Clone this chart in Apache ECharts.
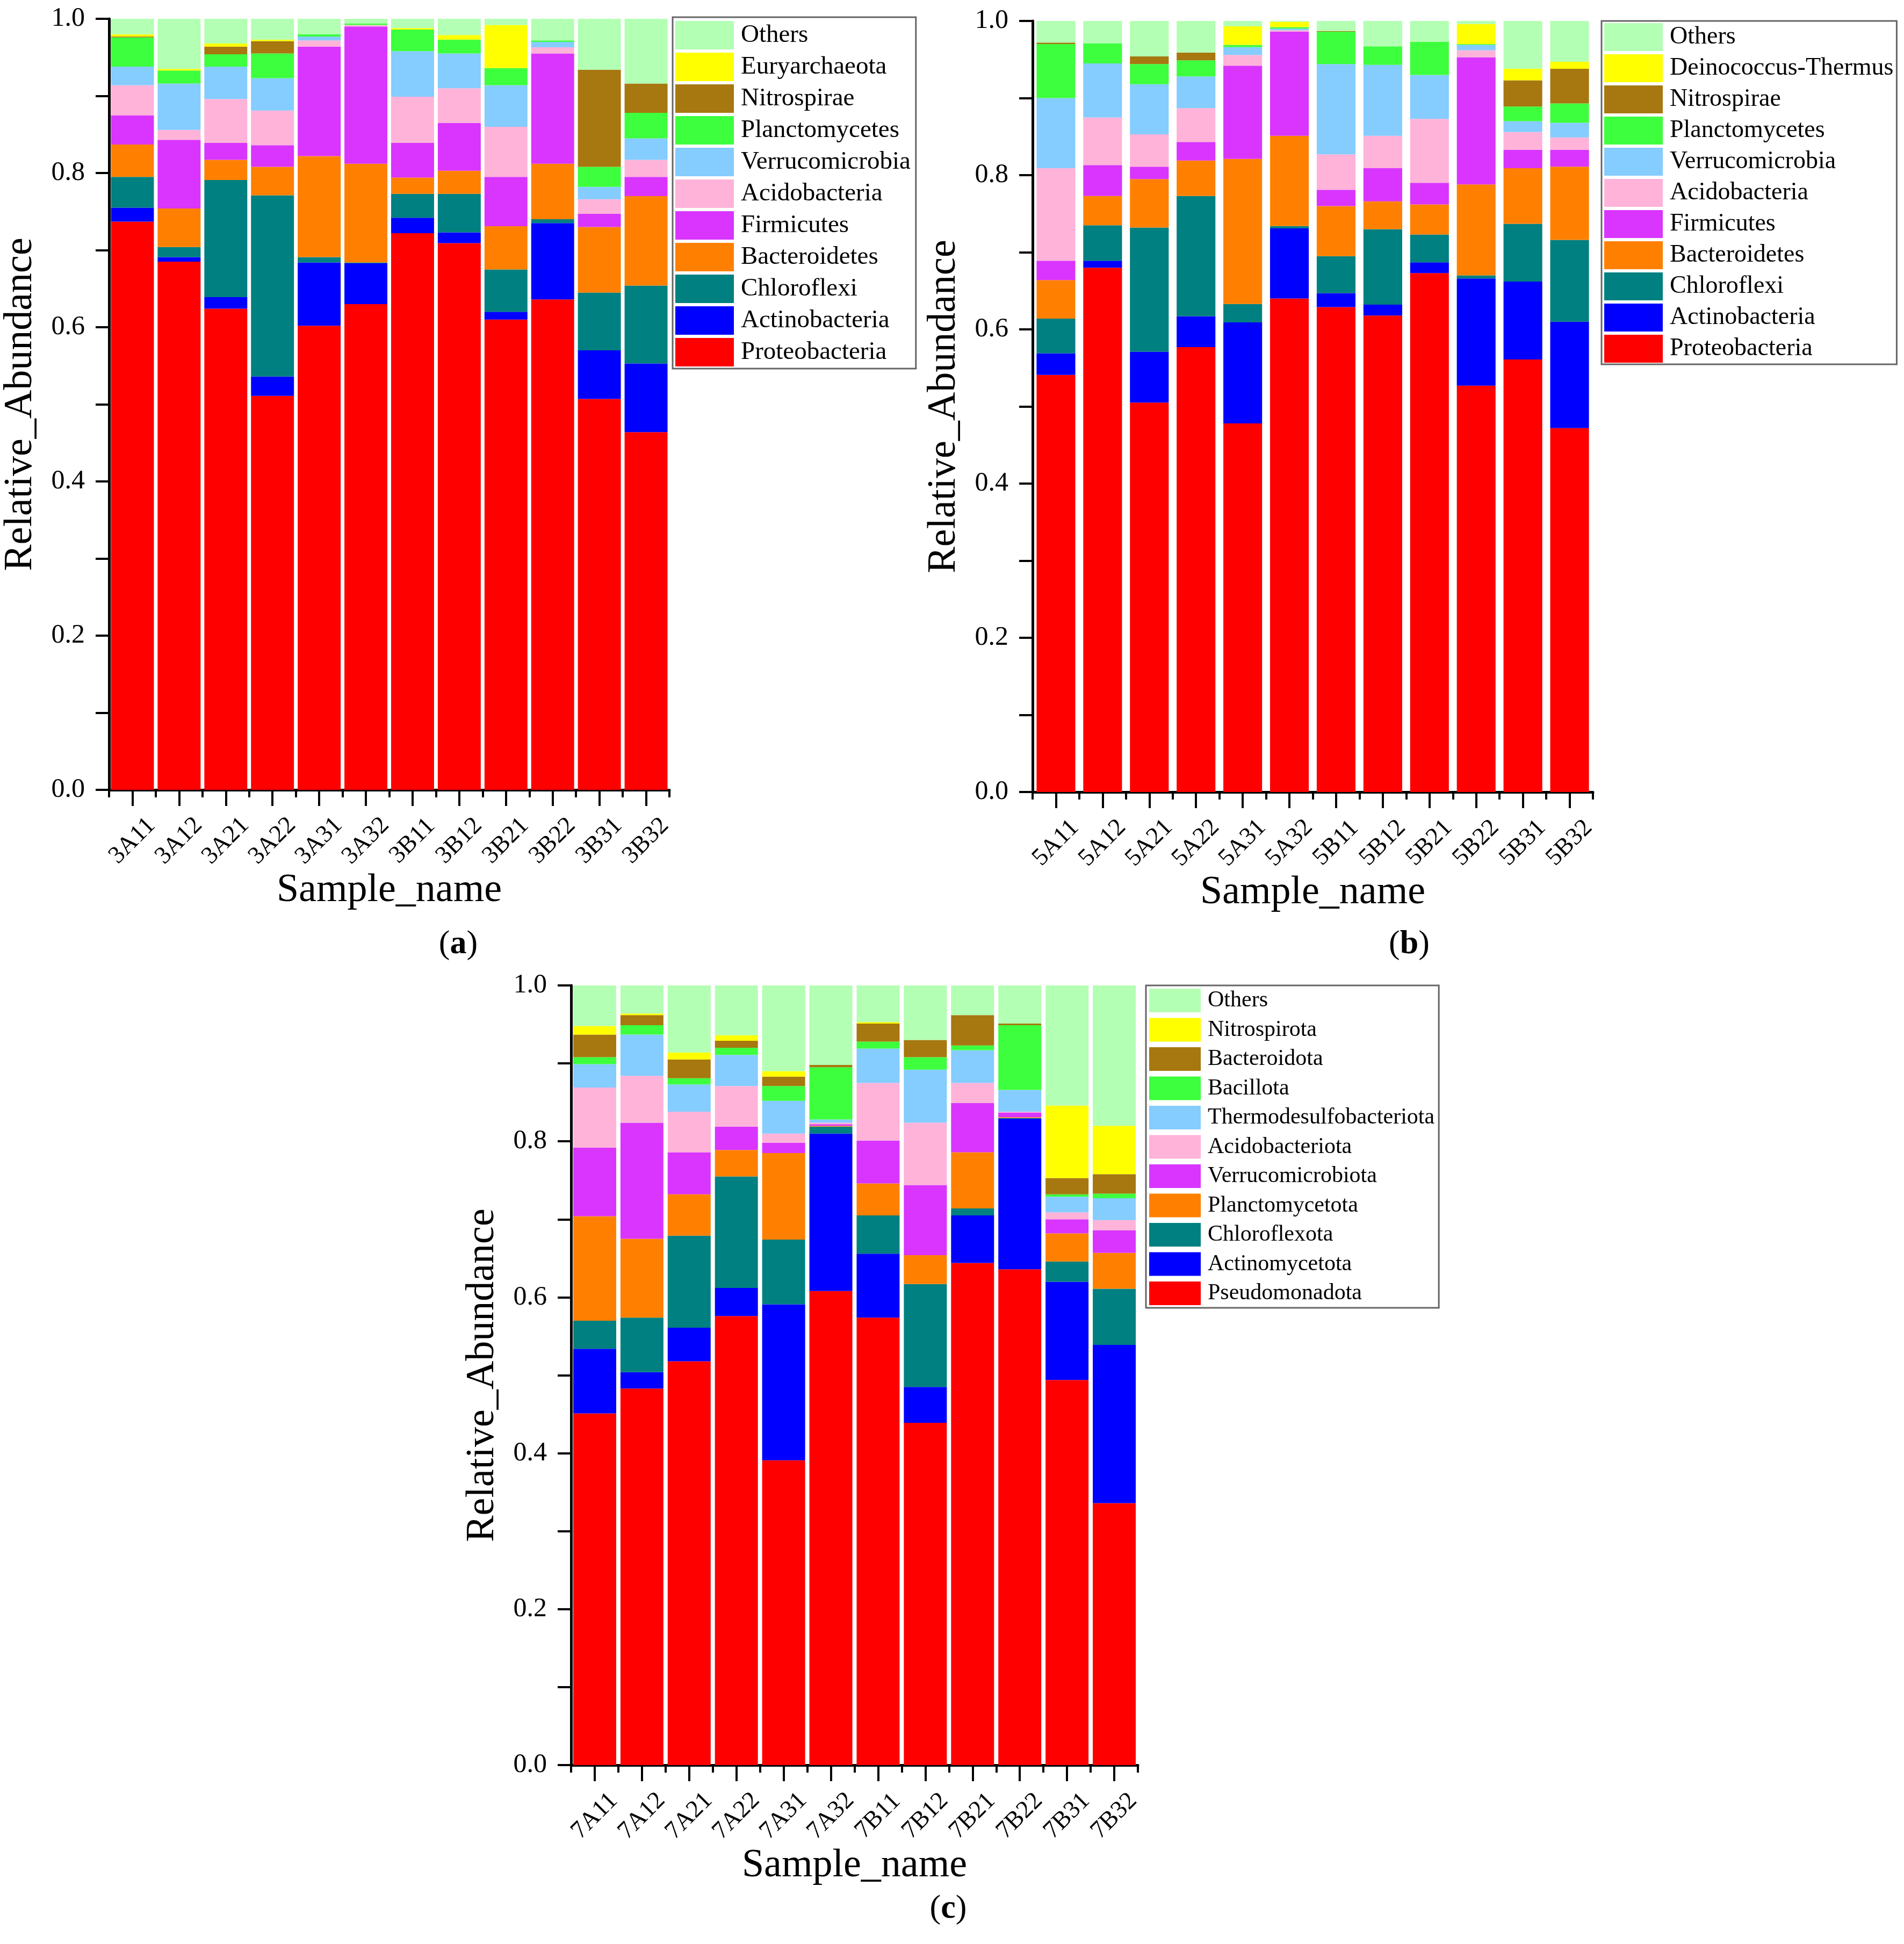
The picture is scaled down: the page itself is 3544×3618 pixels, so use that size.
<!DOCTYPE html>
<html>
<head>
<meta charset="utf-8">
<script src="https://cdn.jsdelivr.net/npm/echarts@6/dist/echarts.min.js"></script>
<style>
html,body{margin:0;padding:0;background:#fff;}
#chart{width:3544px;height:3618px;}
</style>
</head>
<body>
<div id="chart"></div>
<script>
// ---------- categories ----------
const catsA = ['3A11','3A12','3A21','3A22','3A31','3A32','3B11','3B12','3B21','3B22','3B31','3B32'];
const catsB = ['5A11','5A12','5A21','5A22','5A31','5A32','5B11','5B12','5B21','5B22','5B31','5B32'];
const catsC = ['7A11','7A12','7A21','7A22','7A31','7A32','7B11','7B12','7B21','7B22','7B31','7B32'];
const yTicks = [0, 0.2, 0.4, 0.6, 0.8, 1.0];

// ---------- panel (a) ----------
const a_Proteobacteria  = [0.737,0.685,0.624,0.511,0.602,0.630,0.722,0.709,0.610,0.636,0.507,0.464];
const a_Actinobacteria  = [0.018,0.006,0.015,0.025,0.082,0.053,0.020,0.014,0.010,0.099,0.063,0.089];
const a_Chloroflexi     = [0.040,0.013,0.152,0.235,0.007,0.001,0.031,0.050,0.055,0.005,0.075,0.101];
const a_Bacteroidetes   = [0.042,0.050,0.026,0.037,0.131,0.128,0.021,0.030,0.056,0.072,0.085,0.116];
const a_Firmicutes      = [0.038,0.089,0.022,0.028,0.142,0.178,0.045,0.062,0.064,0.143,0.017,0.025];
const a_Acidobacteria   = [0.039,0.013,0.057,0.045,0.008,0.002,0.060,0.045,0.065,0.008,0.019,0.022];
const a_Verrucomicrobia = [0.024,0.060,0.042,0.042,0.005,0.000,0.059,0.045,0.054,0.007,0.016,0.028];
const a_Planctomycetes  = [0.038,0.017,0.016,0.032,0.003,0.002,0.028,0.018,0.022,0.002,0.026,0.033];
const a_Nitrospirae     = [0.001,0.000,0.010,0.016,0.000,0.000,0.000,0.000,0.000,0.000,0.126,0.038];
const a_Euryarchaeota   = [0.003,0.002,0.004,0.002,0.000,0.000,0.002,0.006,0.056,0.000,0.000,0.000];
const a_Others          = [0.020,0.065,0.032,0.027,0.020,0.006,0.012,0.021,0.008,0.028,0.066,0.084];

// ---------- panel (b) ----------
const b_Proteobacteria  = [0.541,0.680,0.505,0.577,0.478,0.640,0.629,0.618,0.673,0.527,0.561,0.472];
const b_Actinobacteria  = [0.028,0.009,0.066,0.040,0.131,0.091,0.018,0.014,0.014,0.139,0.101,0.138];
const b_Chloroflexi     = [0.045,0.046,0.161,0.156,0.024,0.003,0.048,0.098,0.036,0.004,0.075,0.106];
const b_Bacteroidetes   = [0.050,0.038,0.063,0.046,0.188,0.117,0.065,0.036,0.039,0.118,0.072,0.095];
const b_Firmicutes      = [0.025,0.040,0.016,0.024,0.121,0.135,0.021,0.043,0.028,0.165,0.024,0.022];
const b_Acidobacteria   = [0.120,0.062,0.042,0.044,0.014,0.002,0.046,0.042,0.083,0.009,0.023,0.016];
const b_Verrucomicrobia = [0.091,0.070,0.065,0.041,0.010,0.002,0.117,0.092,0.057,0.007,0.014,0.019];
const b_Planctomycetes  = [0.070,0.026,0.026,0.021,0.003,0.002,0.042,0.024,0.043,0.001,0.019,0.025];
const b_Nitrospirae     = [0.002,0.000,0.010,0.010,0.000,0.000,0.001,0.000,0.000,0.000,0.034,0.045];
const b_Deinococcus     = [0.000,0.000,0.000,0.000,0.024,0.007,0.000,0.000,0.000,0.026,0.015,0.009];
const b_Others          = [0.028,0.029,0.046,0.041,0.007,0.001,0.013,0.033,0.027,0.004,0.062,0.053];

// ---------- panel (c) ----------
const c_Pseudomonadota   = [0.451,0.483,0.518,0.576,0.391,0.608,0.574,0.439,0.644,0.636,0.494,0.336];
const c_Actinomycetota   = [0.083,0.021,0.043,0.036,0.200,0.202,0.082,0.046,0.061,0.193,0.126,0.203];
const c_Chloroflexota    = [0.036,0.070,0.118,0.143,0.083,0.009,0.049,0.132,0.009,0.001,0.026,0.072];
const c_Planctomycetota  = [0.134,0.101,0.053,0.034,0.111,0.001,0.041,0.037,0.072,0.001,0.036,0.046];
const c_Verrucomicrobiota= [0.088,0.149,0.054,0.030,0.013,0.002,0.055,0.090,0.063,0.006,0.018,0.029];
const c_Acidobacteriota  = [0.077,0.060,0.052,0.052,0.012,0.002,0.074,0.080,0.026,0.001,0.009,0.013];
const c_Thermodesulfo    = [0.030,0.053,0.035,0.040,0.042,0.004,0.044,0.068,0.042,0.028,0.020,0.028];
const c_Bacillota        = [0.009,0.012,0.008,0.009,0.019,0.067,0.009,0.016,0.006,0.083,0.003,0.006];
const c_Bacteroidota     = [0.029,0.013,0.024,0.009,0.012,0.003,0.023,0.022,0.039,0.002,0.021,0.025];
const c_Nitrospirota     = [0.011,0.002,0.009,0.007,0.007,0.000,0.002,0.000,0.000,0.000,0.093,0.062];
const c_Others           = [0.052,0.036,0.086,0.064,0.110,0.102,0.047,0.070,0.038,0.049,0.154,0.180];

// ---------- colours ----------
const COL = {
  red:'#FF0000', blue:'#0000FF', teal:'#008080', orange:'#FF8000', magenta:'#D935FF',
  pink:'#FFB3D9', lblue:'#85CCFF', green:'#3DFF3D', brown:'#A6780F', yellow:'#FFFF00', others:'#B3FFB3'
};
const colorOrder = ['red','blue','teal','orange','magenta','pink','lblue','green','brown','yellow','others'];

const panelA = [
  ['Proteobacteria',a_Proteobacteria],['Actinobacteria',a_Actinobacteria],['Chloroflexi',a_Chloroflexi],
  ['Bacteroidetes',a_Bacteroidetes],['Firmicutes',a_Firmicutes],['Acidobacteria',a_Acidobacteria],
  ['Verrucomicrobia',a_Verrucomicrobia],['Planctomycetes',a_Planctomycetes],['Nitrospirae',a_Nitrospirae],
  ['Euryarchaeota',a_Euryarchaeota],['Others',a_Others]
];
const panelB = [
  ['Proteobacteria',b_Proteobacteria],['Actinobacteria',b_Actinobacteria],['Chloroflexi',b_Chloroflexi],
  ['Bacteroidetes',b_Bacteroidetes],['Firmicutes',b_Firmicutes],['Acidobacteria',b_Acidobacteria],
  ['Verrucomicrobia',b_Verrucomicrobia],['Planctomycetes',b_Planctomycetes],['Nitrospirae',b_Nitrospirae],
  ['Deinococcus-Thermus',b_Deinococcus],['Others',b_Others]
];
const panelC = [
  ['Pseudomonadota',c_Pseudomonadota],['Actinomycetota',c_Actinomycetota],['Chloroflexota',c_Chloroflexota],
  ['Planctomycetota',c_Planctomycetota],['Verrucomicrobiota',c_Verrucomicrobiota],['Acidobacteriota',c_Acidobacteriota],
  ['Thermodesulfobacteriota',c_Thermodesulfo],['Bacillota',c_Bacillota],['Bacteroidota',c_Bacteroidota],
  ['Nitrospirota',c_Nitrospirota],['Others',c_Others]
];

const FONT = '"Liberation Serif","Times New Roman",serif';

const grids = [
  {left:203, top:35, width:1043, height:1435},
  {left:1922, top:39, width:1043, height:1435},
  {left:1063, top:1834, width:1055, height:1451}
];
const catsList = [catsA, catsB, catsC];
const gapList = ['8%', '17%', '9%'];

const xAxes = [], yAxes = [];
catsList.forEach((cats, gi) => {
  xAxes.push({
    type:'category', gridIndex:gi, data:cats, position:'bottom', boundaryGap:true,
    axisLine:{show:true, lineStyle:{color:'#000', width:5}},
    axisTick:{show:true, interval:0, alignWithLabel:false, length:14, lineStyle:{color:'#000', width:4}},
    axisLabel:{interval:0, rotate:45, align:'center', verticalAlign:'middle',
      fontSize:46, fontFamily:FONT, color:'#000', margin:95},
    name:'Sample_name', nameLocation:'middle', nameGap:150,
    nameTextStyle:{fontSize:74, fontFamily:FONT, color:'#000'}
  });
  xAxes.push({
    type:'category', gridIndex:gi, data:cats, position:'bottom', offset:0, boundaryGap:true,
    axisLine:{show:false},
    axisTick:{show:true, interval:0, alignWithLabel:true, length:30, lineStyle:{color:'#000', width:4}},
    axisLabel:{show:false, interval:0}, splitLine:{show:false}
  });
  yAxes.push({
    type:'value', gridIndex:gi, min:yTicks[0], max:yTicks[yTicks.length-1], interval:0.2,
    axisLine:{show:true, lineStyle:{color:'#000', width:5}},
    axisTick:{show:true, length:25, lineStyle:{color:'#000', width:4}},
    minorTick:{show:true, splitNumber:2, length:25, lineStyle:{color:'#000', width:4}},
    splitLine:{show:false},
    axisLabel:{fontSize:50, fontFamily:FONT, color:'#000', margin:45, formatter:v=>v.toFixed(1)},
    name:'Relative_Abundance', nameLocation:'middle', nameGap:127,
    nameTextStyle:{fontSize:74, fontFamily:FONT, color:'#000'}
  });
});

const series = [];
[panelA, panelB, panelC].forEach((panel, gi) => {
  panel.forEach(([name, data], k) => {
    series.push({
      type:'bar', name:name, data:data, stack:'s'+gi,
      xAxisIndex:gi*2, yAxisIndex:gi, barCategoryGap:gapList[gi],
      itemStyle:{color:COL[colorOrder[k]]},
      emphasis:{disabled:true}
    });
  });
});

function legendFor(panel, pos){
  return Object.assign({
    orient:'vertical', icon:'rect', selectedMode:false,
    data: panel.map(p=>p[0]).slice().reverse(),
    borderColor:'#666', borderWidth:3, backgroundColor:'#fff',
    textStyle:{fontFamily:FONT, color:'#000', padding:[0,0,0,8]}
  }, pos);
}

const legends = [
  legendFor(panelA, {left:1252, top:32, itemWidth:109, itemHeight:53, itemGap:6, padding:[7,10,4,5],
    textStyle:{fontFamily:FONT, color:'#000', fontSize:47, padding:[0,0,0,8]}}),
  legendFor(panelB, {left:2981, top:39, itemWidth:109, itemHeight:52, itemGap:6, padding:[4,6,3,5],
    textStyle:{fontFamily:FONT, color:'#000', fontSize:46, padding:[0,0,0,8]}}),
  legendFor(panelC, {left:2133, top:1834, itemWidth:96, itemHeight:44, itemGap:10.5, padding:[6,8,5,6],
    textStyle:{fontFamily:FONT, color:'#000', fontSize:42, padding:[0,0,0,8]}})
];

function caption(letter, x, y){
  return {type:'text', x:x, y:y, style:{
    text:'({b|'+letter+'})', align:'center', verticalAlign:'middle',
    fontSize:62, fontFamily:FONT, fill:'#000',
    rich:{b:{fontSize:62, fontFamily:FONT, fontWeight:'bold', fill:'#000'}}
  }};
}

const option = {
  backgroundColor:'#fff',
  animation:false,
  grid:grids,
  xAxis:xAxes,
  yAxis:yAxes,
  legend:legends,
  series:series,
  graphic:[caption('a',853,1758), caption('b',2623,1758), caption('c',1765,3553)]
};

const chart = echarts.init(document.getElementById('chart'), null, {renderer:'canvas'});
chart.setOption(option);
</script>
</body>
</html>
